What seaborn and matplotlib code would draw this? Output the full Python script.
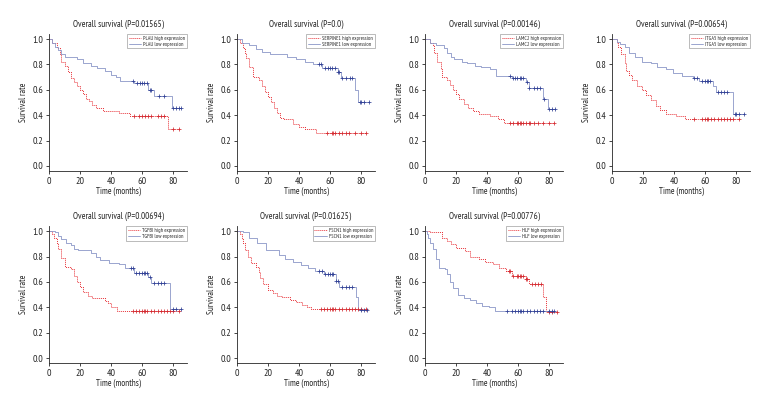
import numpy as np
import matplotlib
matplotlib.use("Agg")
import matplotlib.pyplot as plt
from matplotlib import font_manager
import seaborn as sns

# gene names and p-values
genes = ["PLAU", "SERPINE1", "LAMC2", "ITGA5", "TGFBI", "FSCN1", "HLF"]
pvals = ["0.01565", "0.0", "0.00146", "0.00654", "0.00694", "0.01625", "0.00776"]

# Kaplan-Meier step points (time in months, survival)
high_t = [
    [0, 2, 5, 7, 8, 10, 12, 14, 16, 18, 20, 22, 24, 26, 28, 30, 35, 45, 52, 77],
    [0, 2, 4, 5, 6, 8, 10, 14, 16, 18, 20, 22, 24, 26, 28, 30, 36, 40, 44, 51],
    [0, 3, 5, 6, 8, 10, 11, 14, 16, 18, 20, 22, 25, 28, 31, 35, 42, 47, 51],
    [0, 3, 4, 6, 8, 9, 11, 13, 16, 19, 22, 25, 28, 31, 35, 41, 47],
    [0, 2, 3, 5, 6, 8, 10, 14, 16, 18, 20, 22, 25, 28, 36, 38, 40, 44],
    [0, 2, 3, 4, 5, 7, 9, 12, 14, 15, 17, 20, 23, 26, 29, 34, 38, 42, 45, 48],
    [0, 3, 11, 14, 17, 20, 26, 29, 35, 39, 44, 48, 52, 56, 65, 67, 76, 78],
]
high_s = [
    [1.0, 0.97, 0.93, 0.88, 0.82, 0.79, 0.74, 0.69, 0.66, 0.63, 0.60, 0.57, 0.53, 0.51, 0.48, 0.46, 0.43, 0.42, 0.39, 0.29],
    [1.0, 0.97, 0.93, 0.89, 0.85, 0.78, 0.70, 0.68, 0.63, 0.58, 0.54, 0.50, 0.46, 0.42, 0.38, 0.37, 0.33, 0.31, 0.29, 0.26],
    [1.0, 0.97, 0.95, 0.89, 0.82, 0.76, 0.70, 0.68, 0.64, 0.60, 0.57, 0.53, 0.49, 0.46, 0.43, 0.41, 0.39, 0.37, 0.34],
    [1.0, 0.97, 0.94, 0.88, 0.81, 0.75, 0.72, 0.68, 0.63, 0.60, 0.56, 0.52, 0.47, 0.44, 0.41, 0.39, 0.37],
    [1.0, 0.98, 0.95, 0.91, 0.86, 0.79, 0.72, 0.70, 0.65, 0.60, 0.56, 0.52, 0.49, 0.47, 0.45, 0.43, 0.40, 0.37],
    [1.0, 0.98, 0.94, 0.91, 0.85, 0.80, 0.75, 0.72, 0.68, 0.63, 0.58, 0.54, 0.51, 0.49, 0.48, 0.46, 0.44, 0.42, 0.40, 0.39],
    [1.0, 0.99, 0.95, 0.92, 0.90, 0.87, 0.84, 0.80, 0.78, 0.76, 0.74, 0.71, 0.69, 0.65, 0.62, 0.58, 0.48, 0.36],
]
high_cens = [
    [55, 58, 60, 62, 64, 66, 70, 72, 74, 80, 84],
    [58, 61, 62, 63, 66, 68, 70, 72, 76, 80, 83],
    [55, 57, 59, 60, 61, 62, 63, 65, 67, 68, 70, 73, 76, 80, 83],
    [53, 58, 60, 61, 62, 64, 66, 68, 70, 72, 74, 76, 78, 82],
    [54, 56, 58, 60, 61, 62, 63, 66, 68, 70, 72, 74, 76, 78, 80, 84],
    [54, 56, 58, 60, 61, 62, 63, 66, 68, 70, 72, 74, 76, 78, 80, 83],
    [54, 55, 57, 59, 60, 61, 62, 63, 65, 66, 69, 71, 73, 75, 80, 82, 85],
]

low_t = [
    [0, 2, 4, 6, 8, 10, 18, 22, 27, 31, 36, 40, 43, 46, 55, 64, 68, 79],
    [0, 3, 8, 12, 16, 21, 32, 38, 44, 49, 55, 65, 67, 76, 78],
    [0, 3, 7, 12, 14, 17, 19, 24, 27, 32, 36, 42, 46, 56, 65, 67, 76, 79],
    [0, 3, 5, 8, 11, 15, 19, 25, 29, 35, 39, 45, 52, 56, 65, 67, 78],
    [0, 4, 6, 8, 11, 14, 16, 19, 27, 30, 33, 39, 45, 49, 55, 64, 66, 78],
    [0, 4, 8, 13, 19, 27, 31, 36, 41, 46, 50, 56, 64, 66, 77, 78],
    [0, 1, 2, 3, 5, 7, 9, 13, 14, 16, 18, 21, 25, 29, 33, 37, 41, 45],
]
low_s = [
    [1.0, 0.97, 0.94, 0.91, 0.88, 0.86, 0.84, 0.81, 0.79, 0.77, 0.75, 0.72, 0.70, 0.67, 0.65, 0.60, 0.55, 0.46],
    [1.0, 0.97, 0.95, 0.92, 0.90, 0.88, 0.86, 0.84, 0.82, 0.80, 0.77, 0.74, 0.69, 0.60, 0.50],
    [1.0, 0.97, 0.95, 0.93, 0.89, 0.86, 0.84, 0.82, 0.81, 0.79, 0.78, 0.76, 0.71, 0.69, 0.66, 0.61, 0.53, 0.45],
    [1.0, 0.98, 0.96, 0.94, 0.89, 0.86, 0.82, 0.81, 0.78, 0.76, 0.73, 0.71, 0.69, 0.67, 0.63, 0.58, 0.41],
    [1.0, 0.99, 0.96, 0.94, 0.91, 0.89, 0.86, 0.85, 0.83, 0.80, 0.77, 0.75, 0.74, 0.71, 0.67, 0.64, 0.59, 0.39],
    [1.0, 0.99, 0.95, 0.91, 0.85, 0.81, 0.78, 0.76, 0.73, 0.71, 0.69, 0.66, 0.61, 0.56, 0.48, 0.38],
    [1.0, 0.98, 0.95, 0.91, 0.86, 0.78, 0.71, 0.70, 0.66, 0.60, 0.55, 0.50, 0.47, 0.46, 0.43, 0.41, 0.40, 0.37],
]
low_cens = [
    [54, 57, 59, 60, 61, 63, 65, 66, 71, 74, 80, 82, 84, 85],
    [53, 54, 57, 59, 60, 61, 63, 65, 66, 68, 70, 73, 74, 79, 80, 82, 85],
    [55, 57, 58, 59, 61, 62, 63, 66, 67, 70, 72, 74, 77, 80, 82, 84],
    [53, 55, 58, 60, 61, 62, 63, 68, 70, 72, 74, 79, 80, 82, 85],
    [53, 54, 56, 58, 60, 61, 62, 63, 65, 68, 70, 72, 74, 80, 82, 85],
    [53, 55, 57, 59, 60, 61, 62, 64, 65, 68, 70, 72, 74, 80, 82, 84],
    [53, 56, 58, 60, 61, 62, 63, 66, 68, 70, 72, 74, 76, 80, 82, 83],
]

RED = "#e8343a"
RED_DARK = "#d42a30"
BLUE = "#8a96c8"
BLUE_DARK = "#2f3f94"

sns.set_style("ticks")
installed = {f.name for f in font_manager.fontManager.ttflist}
cands = ["PT Sans Narrow", "Roboto Condensed", "Fira Sans Condensed", "Asap Condensed",
         "Archivo Narrow", "Liberation Sans Narrow", "DejaVu Sans"]
plt.rcParams["font.family"] = [f for f in cands if f in installed] or ["DejaVu Sans"]


def step_val(ts, ss, x):
    i = np.searchsorted(ts, x, side="right") - 1
    return ss[i]


def draw_curve(ax, ts, ss, cens, color, mcolor, ls, lw, label):
    end = max(cens)
    xs = list(ts) + [end]
    ys = list(ss) + [ss[-1]]
    sns.lineplot(x=xs, y=ys, ax=ax, drawstyle="steps-post", color=color,
                 linestyle=ls, linewidth=lw, estimator=None, sort=False, label=label)
    cy = [step_val(ts, ss, c) for c in cens]
    sns.scatterplot(x=cens, y=cy, ax=ax, marker="+", color=mcolor, s=9,
                    linewidth=0.55, legend=False, zorder=3)


fig = plt.figure(figsize=(7.68, 4.08), dpi=100)
lefts = [0.0638, 0.3086, 0.5534, 0.797]
bottoms = [0.581, 0.110]
w, h = 0.1797, 0.3358

for k, g in enumerate(genes):
    r, c = divmod(k, 4)
    ax = fig.add_axes([lefts[c], bottoms[r], w, h])
    draw_curve(ax, high_t[k], high_s[k], high_cens[k], RED, RED_DARK, (0, (1, 1)), 0.7,
               f"{g} high expression")
    draw_curve(ax, low_t[k], low_s[k], low_cens[k], BLUE, BLUE_DARK, "-", 0.6,
               f"{g} low expression")
    ax.set_xlim(0, 89)
    ax.set_ylim(-0.04, 1.04)
    ax.set_xticks([0, 20, 40, 60, 80])
    ax.set_yticks([0.0, 0.2, 0.4, 0.6, 0.8, 1.0])
    ax.set_yticklabels(["0.0", "0.2", "0.4", "0.6", "0.8", "1.0"])
    ax.tick_params(labelsize=7.2, length=2.5, width=0.6, pad=1.5)
    for sp in ["left", "bottom"]:
        ax.spines[sp].set_linewidth(0.6)
    sns.despine(ax=ax)
    ax.set_title(f"Overall survival (P={pvals[k]})", fontsize=6.7, pad=5)
    ax.set_xlabel("Time (months)", fontsize=6.5, labelpad=1)
    ax.set_ylabel("Survival rate", fontsize=6.5, labelpad=3)
    leg = ax.legend(loc="upper right", fontsize=4, frameon=True, fancybox=False,
                    handlelength=2.2, handletextpad=0.4, borderpad=0.3,
                    labelspacing=0.2, borderaxespad=0.0)
    leg.get_frame().set_edgecolor("#888888")
    leg.get_frame().set_linewidth(0.5)

fig.savefig("out.png", dpi=100)
